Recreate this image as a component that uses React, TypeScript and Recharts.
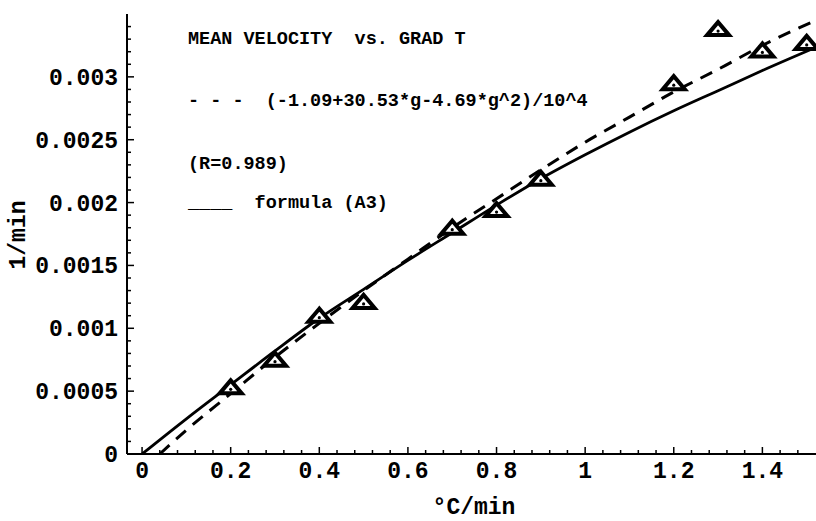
import { ComposedChart, Line, Scatter, XAxis, YAxis } from 'recharts';

// measured points (triangles)
const markerX = [0.2, 0.3, 0.4, 0.5, 0.7, 0.8, 0.9, 1.2, 1.3, 1.4, 1.5];
const markerY = [0.00053, 0.00075, 0.0011, 0.00121, 0.0018, 0.00194, 0.00219, 0.00295, 0.00338, 0.00321, 0.00327];

// dashed fit curve
const fitX = [0.04, 0.1, 0.2, 0.3, 0.4, 0.5, 0.6, 0.7, 0.8, 0.9, 1.0, 1.1, 1.2, 1.3, 1.4, 1.521];
const fitY = [0, 0.00019, 0.00048, 0.00077, 0.00104, 0.0013, 0.00155, 0.0018, 0.00203, 0.00226, 0.00248, 0.00268, 0.00288, 0.00306, 0.00325, 0.00345];

// solid curve, formula (A3)
const a3X = [0, 0.1, 0.2, 0.3, 0.4, 0.5, 0.6, 0.7, 0.8, 0.9, 1.0, 1.1, 1.2, 1.3, 1.4, 1.521];
const a3Y = [0, 0.00028, 0.00055, 0.00082, 0.00108, 0.00131, 0.00154, 0.00176, 0.00198, 0.00219, 0.00238, 0.00256, 0.00273, 0.00289, 0.00305, 0.003235];

const xMajorTicks = [0, 0.2, 0.4, 0.6, 0.8, 1, 1.2, 1.4];
const xMinorTicks = [
  0.04, 0.08, 0.12, 0.16, 0.24, 0.28, 0.32, 0.36, 0.44, 0.48, 0.52, 0.56,
  0.64, 0.68, 0.72, 0.76, 0.84, 0.88, 0.92, 0.96, 1.04, 1.08, 1.12, 1.16,
  1.24, 1.28, 1.32, 1.36, 1.44, 1.48,
];
const yMajorTicks = [0, 0.0005, 0.001, 0.0015, 0.002, 0.0025, 0.003];
const yMinorTicks = [
  0.0001, 0.0002, 0.0003, 0.0004, 0.0006, 0.0007, 0.0008, 0.0009,
  0.0011, 0.0012, 0.0013, 0.0014, 0.0016, 0.0017, 0.0018, 0.0019,
  0.0021, 0.0022, 0.0023, 0.0024, 0.0026, 0.0027, 0.0028, 0.0029,
  0.0031, 0.0032, 0.0033, 0.0034,
];

const markers = markerX.map((x, i) => ({ x, y: markerY[i] }));
const fitData = fitX.map((x, i) => ({ x, y: fitY[i] }));
const a3Data = a3X.map((x, i) => ({ x, y: a3Y[i] }));
const xTicks = [...xMajorTicks, ...xMinorTicks].sort((a, b) => a - b);
const yTicks = [...yMajorTicks, ...yMinorTicks].sort((a, b) => a - b);

const MONO = "'Liberation Mono', 'DejaVu Sans Mono', monospace";
const tickFont = { fontFamily: MONO, fontWeight: 700, fontSize: 23, fill: '#000' };

const isMajor = (v: number, list: number[]) => list.some((m) => Math.abs(m - v) < 1e-9);

function BottomTick(props: any) {
  const { x, y, payload } = props;
  const major = isMajor(payload.value, xMajorTicks);
  return (
    <g>
      <line x1={x} x2={x} y1={y} y2={y - (major ? 7 : 4)} stroke="#000" strokeWidth={1.5} />
      {major && (
        <text x={x} y={y + 24} textAnchor="middle" style={tickFont}>
          {String(payload.value)}
        </text>
      )}
    </g>
  );
}

function TopTick(props: any) {
  const { x, y, payload } = props;
  const major = isMajor(payload.value, xMajorTicks);
  return <line x1={x} x2={x} y1={y} y2={y + (major ? 7 : 4)} stroke="#000" strokeWidth={1.5} />;
}

function LeftTick(props: any) {
  const { x, y, payload } = props;
  const major = isMajor(payload.value, yMajorTicks);
  return (
    <g>
      <line x1={x} x2={x + (major ? 7 : 4)} y1={y} y2={y} stroke="#000" strokeWidth={1.5} />
      {major && (
        <text x={x - 9} y={y + 8} textAnchor="end" style={tickFont}>
          {String(payload.value)}
        </text>
      )}
    </g>
  );
}

function Triangle(props: any) {
  const { cx, cy } = props;
  if (cx == null || cy == null) return null;
  return (
    <g>
      <polygon
        points={`${cx},${cy - 7} ${cx - 11},${cy + 6} ${cx + 11},${cy + 6}`}
        fill="#fff"
        stroke="#000"
        strokeWidth={4}
        strokeLinejoin="miter"
      />
      <circle cx={cx} cy={cy + 2} r={1.6} fill="#000" />
    </g>
  );
}

const label = {
  position: 'absolute' as const,
  fontFamily: MONO,
  fontWeight: 700,
  fontSize: 18.5,
  lineHeight: '20px',
  whiteSpace: 'pre' as const,
  color: '#000',
};

const axisTitle = {
  position: 'absolute' as const,
  fontFamily: MONO,
  fontWeight: 700,
  fontSize: 23,
  lineHeight: 1,
  whiteSpace: 'pre' as const,
};

export default function App() {
  return (
    <div style={{ position: 'absolute', left: 0, top: 0, width: 816, height: 521, background: '#fff', overflow: 'hidden' }}>
      <ComposedChart width={816} height={521} margin={{ top: 14, right: 0, bottom: 0, left: 0 }}>
        <XAxis
          dataKey="x"
          type="number"
          domain={[-0.034, 1.521]}
          allowDataOverflow
          ticks={xTicks}
          interval={0}
          height={67}
          tickSize={0}
          tickMargin={0}
          tickLine={false}
          axisLine={{ stroke: '#000', strokeWidth: 2 }}
          tick={BottomTick}
        />
        <XAxis
          xAxisId="top"
          orientation="top"
          type="number"
          domain={[-0.034, 1.521]}
          allowDataOverflow
          ticks={xTicks}
          interval={0}
          height={0}
          tickSize={0}
          tickMargin={0}
          tickLine={false}
          axisLine={{ stroke: '#000', strokeWidth: 2 }}
          tick={TopTick}
        />
        <YAxis
          dataKey="y"
          type="number"
          domain={[0, 0.0035]}
          allowDataOverflow
          ticks={yTicks}
          interval={0}
          width={127}
          tickSize={0}
          tickMargin={0}
          tickLine={false}
          axisLine={{ stroke: '#000', strokeWidth: 2 }}
          tick={LeftTick}
        />
        <Line
          data={a3Data}
          dataKey="y"
          type="monotone"
          stroke="#000"
          strokeWidth={2.8}
          dot={false}
          activeDot={false}
          isAnimationActive={false}
        />
        <Line
          data={fitData}
          dataKey="y"
          type="monotone"
          stroke="#000"
          strokeWidth={3}
          strokeDasharray="13 9"
          dot={false}
          activeDot={false}
          isAnimationActive={false}
        />
        <Scatter data={markers} dataKey="y" shape={Triangle} isAnimationActive={false} />
      </ComposedChart>

      <div style={{ ...label, left: 188, top: 30 }}>MEAN VELOCITY  vs. GRAD T</div>
      <div style={{ ...label, left: 188, top: 92 }}>{'- - -  (-1.09+30.53*g-4.69*g^2)/10^4'}</div>
      <div style={{ ...label, left: 188, top: 155 }}>(R=0.989)</div>
      <div style={{ ...label, left: 188, top: 194 }}>{'____  formula (A3)'}</div>

      <div style={{ ...axisTitle, left: 474, top: 508, transform: 'translate(-50%, -50%)' }}>°C/min</div>
      <div style={{ ...axisTitle, left: 19, top: 235, transform: 'translate(-50%, -50%) rotate(-90deg)' }}>1/min</div>
    </div>
  );
}
